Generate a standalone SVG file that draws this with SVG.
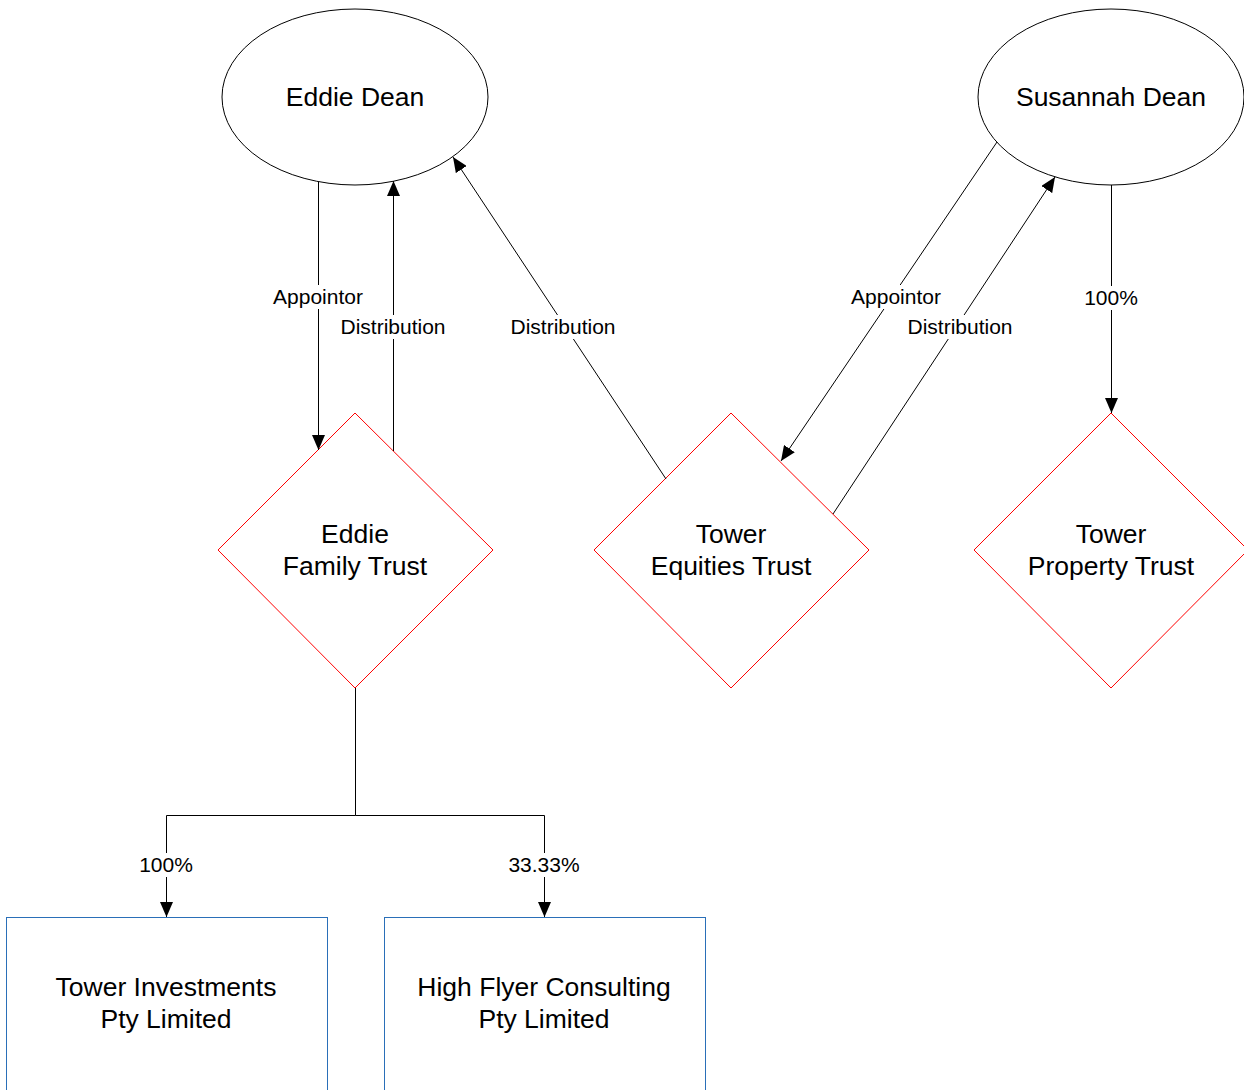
<svg xmlns="http://www.w3.org/2000/svg" width="1244" height="1090" viewBox="0 0 1244 1090">
<style>
  .ell { fill: #ffffff; stroke: #000000; stroke-width: 1; }
  .dia { fill: #ffffff; stroke: #ff0000; stroke-width: 1; }
  .box { fill: #ffffff; stroke: #2a6fb8; stroke-width: 1; }
  .node-text { font-family: "Liberation Sans", Arial, sans-serif; font-size: 26.5px; fill: #000000; text-anchor: middle; }
  .conn { fill: none; stroke: #000000; stroke-width: 1; }
  .lbl-bg { fill: #ffffff; stroke: none; }
  .lbl { font-family: "Liberation Sans", Arial, sans-serif; font-size: 21px; fill: #000000; text-anchor: middle; }
</style>
<defs>
  <marker id="arrow" markerUnits="userSpaceOnUse" markerWidth="15" markerHeight="13" refX="15" refY="6.5" orient="auto">
    <path d="M0,0 L15,6.5 L0,13 Z" fill="#000000"/>
  </marker>
</defs>
<rect x="0" y="0" width="1244" height="1090" fill="#ffffff"/>

<g id="eddie-dean">
  <ellipse class="ell" cx="355" cy="97" rx="133" ry="88"/>
  <text class="node-text" x="355" y="106">Eddie Dean</text>
</g>
<g id="susannah-dean">
  <ellipse class="ell" cx="1111" cy="97" rx="133" ry="88"/>
  <text class="node-text" x="1111" y="106">Susannah Dean</text>
</g>
<g id="eddie-family-trust">
  <polygon class="dia" points="355,413 493,550 355,688 218,550"/>
  <text class="node-text" x="355" y="543">Eddie</text>
  <text class="node-text" x="355" y="575">Family Trust</text>
</g>
<g id="tower-equities-trust">
  <polygon class="dia" points="731,413 869,550 731,688 594,550"/>
  <text class="node-text" x="731" y="543">Tower</text>
  <text class="node-text" x="731" y="575">Equities Trust</text>
</g>
<g id="tower-property-trust">
  <polygon class="dia" points="1111,413 1248,550 1111,688 974,550"/>
  <text class="node-text" x="1111" y="543">Tower</text>
  <text class="node-text" x="1111" y="575">Property Trust</text>
</g>
<g id="tower-investments">
  <rect class="box" x="6.5" y="917.5" width="321" height="190"/>
  <text class="node-text" x="166" y="996">Tower Investments</text>
  <text class="node-text" x="166" y="1028">Pty Limited</text>
</g>
<g id="high-flyer">
  <rect class="box" x="384.5" y="917.5" width="321" height="190"/>
  <text class="node-text" x="544" y="996">High Flyer Consulting</text>
  <text class="node-text" x="544" y="1028">Pty Limited</text>
</g>

<g id="connectors">
  <line class="conn" x1="318.5" y1="182" x2="318.5" y2="450" marker-end="url(#arrow)"/>
  <line class="conn" x1="393.5" y1="451" x2="393.5" y2="181" marker-end="url(#arrow)"/>
  <line class="conn" x1="666" y1="479" x2="453" y2="157" marker-end="url(#arrow)"/>
  <line class="conn" x1="997" y1="142" x2="781" y2="461" marker-end="url(#arrow)"/>
  <line class="conn" x1="833" y1="514" x2="1055" y2="177" marker-end="url(#arrow)"/>
  <line class="conn" x1="1111.5" y1="185" x2="1111.5" y2="413" marker-end="url(#arrow)"/>
  <polyline class="conn" points="355.5,688 355.5,815.5 166.5,815.5 166.5,917" marker-end="url(#arrow)"/>
  <polyline class="conn" points="355.5,815.5 544.5,815.5 544.5,917" marker-end="url(#arrow)"/>

  <rect class="lbl-bg" x="269" y="285" width="98" height="24"/>
  <text class="lbl" x="318" y="304">Appointor</text>
  <rect class="lbl-bg" x="337" y="315" width="112" height="24"/>
  <text class="lbl" x="393" y="334">Distribution</text>
  <rect class="lbl-bg" x="507" y="315" width="112" height="24"/>
  <text class="lbl" x="563" y="334">Distribution</text>
  <rect class="lbl-bg" x="847" y="285" width="98" height="24"/>
  <text class="lbl" x="896" y="304">Appointor</text>
  <rect class="lbl-bg" x="904" y="315" width="112" height="24"/>
  <text class="lbl" x="960" y="334">Distribution</text>
  <rect class="lbl-bg" x="1082" y="286" width="58" height="24"/>
  <text class="lbl" x="1111" y="305">100%</text>
  <rect class="lbl-bg" x="137" y="853" width="58" height="24"/>
  <text class="lbl" x="166" y="872">100%</text>
  <rect class="lbl-bg" x="505" y="853" width="78" height="24"/>
  <text class="lbl" x="544" y="872">33.33%</text>
</g>
</svg>
